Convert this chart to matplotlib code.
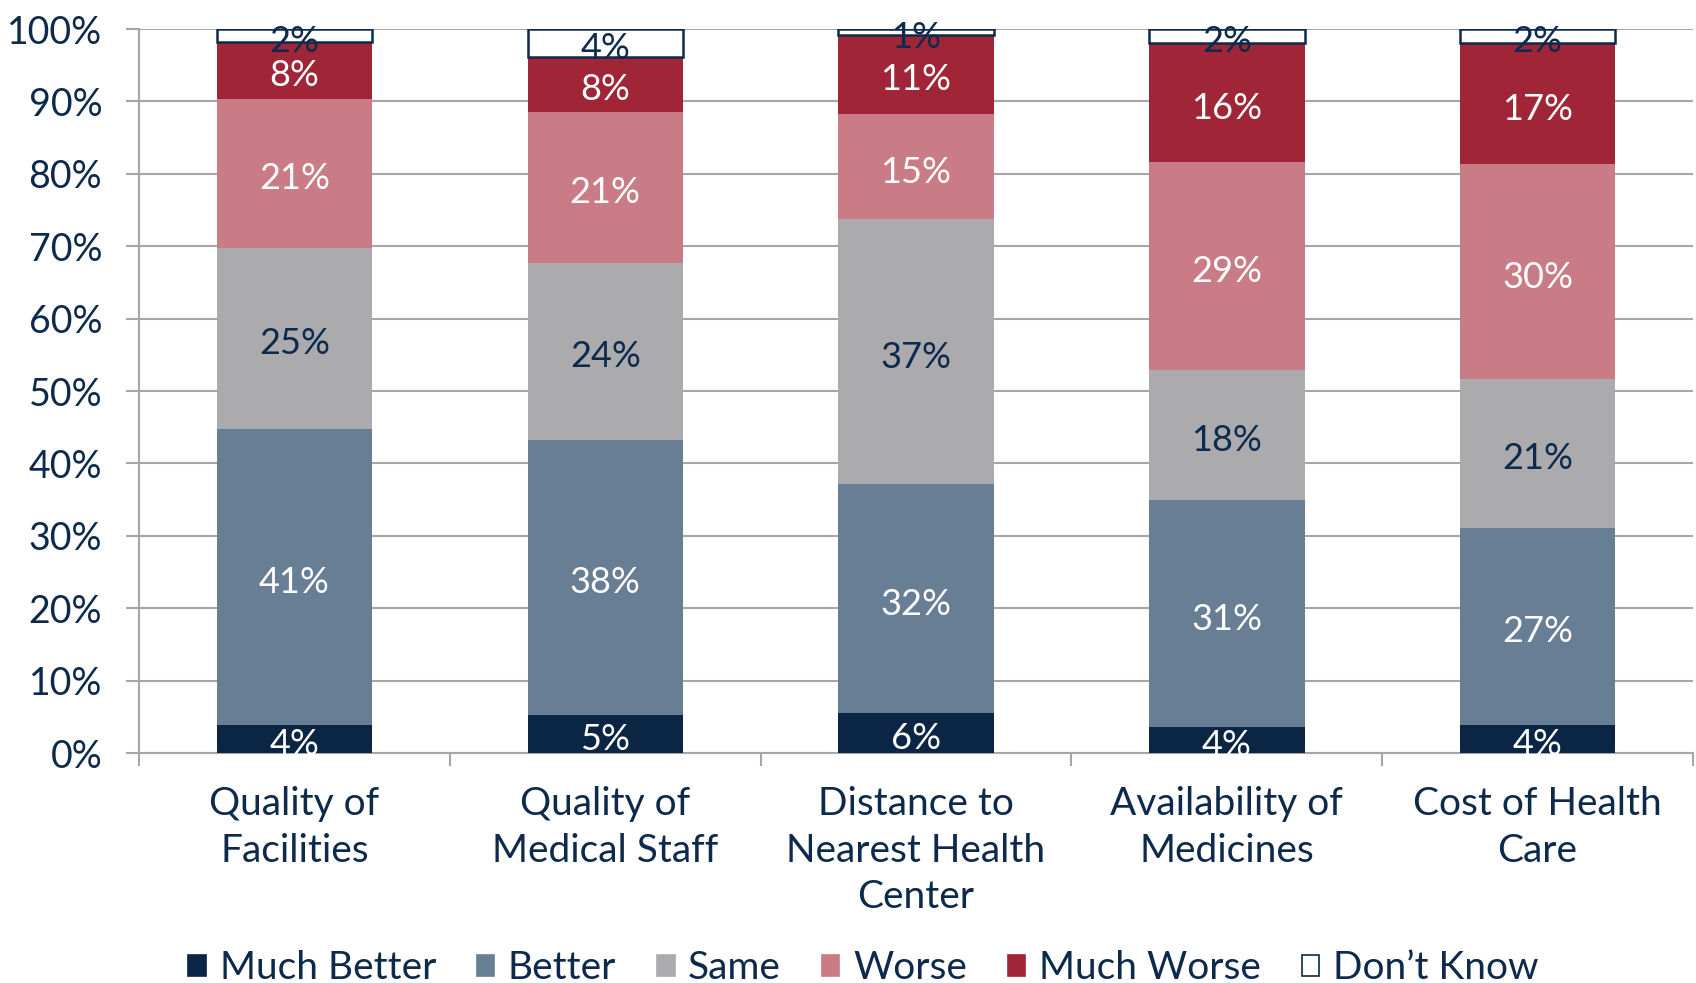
import matplotlib.pyplot as plt
import matplotlib.patches as mpatches
import matplotlib.transforms as mtransforms
import numpy as np

plt.rcParams["font.family"] = ["Lato", "DejaVu Sans"]

# データ (%)
categories = [
    "Quality of\nFacilities",
    "Quality of\nMedical Staff",
    "Distance to\nNearest Health\nCenter",
    "Availability of\nMedicines",
    "Cost of Health\nCare",
]
series_names = ["Much Better", "Better", "Same", "Worse", "Much Worse", "Don\u2019t Know"]
much_better = [3.9, 5.2, 5.5, 3.6, 3.9]
better = [40.9, 38.1, 31.6, 31.3, 27.2]
same = [25.0, 24.4, 36.6, 18.0, 20.6]
worse = [20.6, 20.9, 14.6, 28.7, 29.6]
much_worse = [7.8, 7.6, 10.9, 16.4, 16.8]
dont_know = [1.8, 3.8, 0.8, 2.0, 1.9]

NAVY = "#0d2a4c"
GRID = "#a6a6a6"
colors = ["#0b2545", "#687e94", "#ababad", "#c97b86", "#a02537", "white"]
label_colors = ["white", "white", NAVY, "white", "white", NAVY]

fig = plt.figure(figsize=(16.96, 9.83), dpi=100)
ax = fig.add_axes([139 / 1696, 1 - 753 / 983, (1693 - 139) / 1696, (753 - 29) / 983])

# ラベルを少し下にずらす
shift = mtransforms.offset_copy(ax.transData, fig=fig, x=0, y=-4, units="points")

x = np.arange(len(categories))
data = [much_better, better, same, worse, much_worse, dont_know]
bottom = np.zeros(len(categories))
for vals, col, lcol in zip(data, colors, label_colors):
    vals = np.array(vals)
    ec = NAVY if col == "white" else "none"
    ax.bar(x, vals, 0.5, bottom=bottom, color=col, edgecolor=ec,
           linewidth=1.8 if col == "white" else 0, zorder=3)
    for xi, b, v in zip(x, bottom, vals):
        ax.text(xi, b + v / 2, f"{v:.0f}%", ha="center", va="center",
                fontsize=26, color=lcol, zorder=4, transform=shift)
    bottom += vals

ax.set_xlim(-0.5, len(categories) - 0.5)
ax.set_ylim(0, 100)
ax.set_yticks(np.arange(0, 101, 10))
ax.set_yticklabels([f"{v}%" for v in range(0, 101, 10)], fontsize=27, color=NAVY)
ax.yaxis.grid(True, color=GRID, linewidth=1.5, zorder=0)
ax.tick_params(axis="y", length=9.5, color=GRID, width=1.5, pad=17)

ax.set_xticks(x)
ax.set_xticklabels(categories, fontsize=28, color=NAVY, linespacing=1.36)
ax.set_xticks(np.arange(-0.5, len(categories), 1), minor=True)
ax.tick_params(axis="x", which="major", length=0, pad=24)
ax.tick_params(axis="x", which="minor", length=9.5, color=GRID, width=1.5)

for s in ["top", "right"]:
    ax.spines[s].set_visible(False)
for s in ["left", "bottom"]:
    ax.spines[s].set_color(GRID)
    ax.spines[s].set_linewidth(1.5)

handles = [
    mpatches.Patch(facecolor=c, edgecolor=NAVY if c == "white" else c, linewidth=1.2, label=n)
    for c, n in zip(colors, series_names)
]
leg = fig.legend(handles=handles, loc="center", bbox_to_anchor=(0.509, 0.015), ncol=6,
                 frameon=False, fontsize=28, handlelength=0.45, handleheight=0.45,
                 handletextpad=0.35, columnspacing=1.05)
for t in leg.get_texts():
    t.set_color(NAVY)

fig.savefig("out.png", dpi=100)
